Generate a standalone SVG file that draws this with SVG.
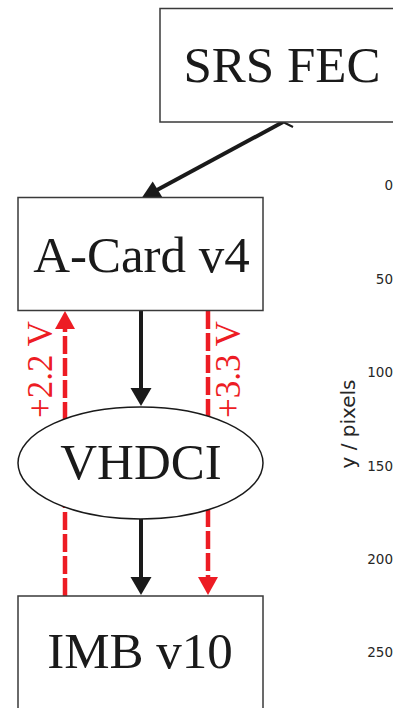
<svg xmlns="http://www.w3.org/2000/svg" width="393" height="708" viewBox="0 0 393 708">
<style>
.box{fill:#fff;stroke:#3a3a3a;stroke-width:1.5}
.lbl{font-family:"Liberation Serif","Times New Roman",serif;font-size:51px;fill:#1a1a1a;text-anchor:middle}
.red{stroke:#ed1c24;stroke-width:4.5;stroke-dasharray:18,4;fill:none}
.redt{font-family:"Liberation Serif","Times New Roman",serif;font-size:35px;fill:#ed1c24}
.blk{stroke:#1a1a1a;stroke-width:4;fill:none}
.tick{font-family:"DejaVu Sans",sans-serif;font-size:13.5px;fill:#262626;text-anchor:end}
</style>
<g id="axis">
<text class="tick" x="393" y="190">0</text>
<text class="tick" x="393" y="284">50</text>
<text class="tick" x="393" y="377">100</text>
<text class="tick" x="393" y="470.5">150</text>
<text class="tick" x="393" y="563.5">200</text>
<text class="tick" x="393" y="656.5">250</text>
<text transform="translate(355,424) rotate(-90)" font-family="DejaVu Sans, sans-serif" font-size="20" fill="#262626" text-anchor="middle">y / pixels</text>
</g>
<g id="connectors">
<line class="red" x1="65" y1="596" x2="65" y2="327"/>
<polygon points="55,329 75,329 65,311" fill="#ed1c24"/>
<line class="red" x1="208" y1="311" x2="208" y2="580"/>
<polygon points="198,577 218,577 208,595" fill="#ed1c24"/>
<line class="blk" x1="141" y1="311" x2="141" y2="390"/>
<polygon points="130.5,388 151.5,388 141,406" fill="#1a1a1a"/>
<line class="blk" x1="141" y1="519" x2="141" y2="579"/>
<polygon points="130.5,577 151.5,577 141,595" fill="#1a1a1a"/>
<line class="blk" x1="283" y1="122" x2="157" y2="190" stroke-width="3.5"/>
<line x1="281" y1="121" x2="293" y2="127" stroke="#1a1a1a" stroke-width="2"/>
<polygon points="142,197.5 162.5,197.5 152.7,181.5" fill="#1a1a1a"/>
</g>
<g id="srs-fec">
<rect class="box" x="160" y="8.5" width="250" height="113.5"/>
<text class="lbl" x="282" y="82">SRS FEC</text>
</g>
<g id="a-card">
<rect class="box" x="18" y="197.5" width="245" height="113"/>
<text class="lbl" x="141.5" y="272">A-Card v4</text>
</g>
<g id="vhdci">
<ellipse cx="140.5" cy="463" rx="122.5" ry="56" fill="#fff" stroke="#1a1a1a" stroke-width="1.5"/>
<text class="lbl" x="141" y="479">VHDCI</text>
</g>
<g id="imb">
<rect class="box" x="18" y="596" width="245" height="130"/>
<text class="lbl" x="140" y="668">IMB v10</text>
</g>
<g id="labels">
<text class="redt" transform="translate(52,418) rotate(-90)">+2.2 V</text>
<text class="redt" transform="translate(240,418) rotate(-90)">+3.3 V</text>
</g>
</svg>
